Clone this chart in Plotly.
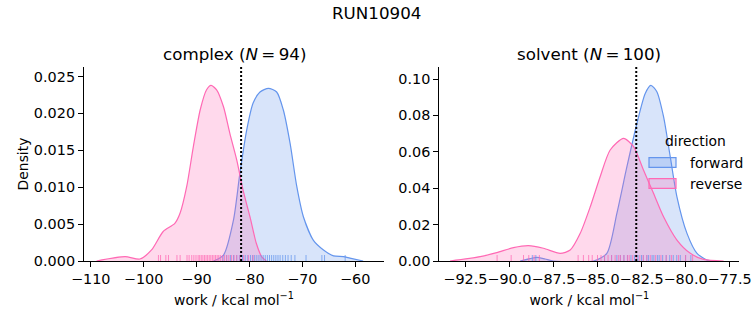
import plotly.graph_objects as go

# ---------------- data ----------------
suptitle = "RUN10904"
phases = ["complex", "solvent"]
n_counts = [94, 100]
directions = ["forward", "reverse"]

# KDE curves, complex phase
cx_fwd_x = [-86.8, -84.9, -83.0, -81.8, -80.5, -79.3, -78.0, -76.4, -74.85, -73.6, -72.3, -71.05, -69.8, -67.9, -66.0, -64.1, -62.25, -61.0, -58.5]
cx_fwd_y = [0.0, 0.0008, 0.0056, 0.0119, 0.0178, 0.0214, 0.0229, 0.0234, 0.0229, 0.0205, 0.0159, 0.0101, 0.0060, 0.0028, 0.0015, 0.0007, 0.0006, 0.0004, 0.0]
cx_rev_x = [-108.9, -103.5, -100.7, -98.5, -96.3, -94.1, -93.1, -91.85, -90.6, -89.3, -88.1, -87.26, -86.2, -84.9, -83.7, -82.4, -81.2, -79.9, -78.7, -77.7, -76.8]
cx_rev_y = [0.0, 0.00058, 0.00027, 0.0015, 0.0040, 0.0051, 0.0065, 0.0101, 0.0155, 0.0205, 0.0232, 0.0238, 0.0232, 0.0209, 0.0173, 0.0137, 0.0096, 0.0060, 0.0024, 0.0006, 0.0]

# KDE curves, solvent phase
sv_fwd_x = [-89.39, -88.82, -88.44, -87.97, -87.5, -85.23, -84.47, -83.90, -83.33, -82.76, -82.29, -81.97, -81.63, -81.25, -80.87, -80.49, -79.92, -79.35, -78.78, -78.4]
sv_fwd_y = [0.0, 0.0013, 0.0020, 0.0011, 0.0, 0.0, 0.0042, 0.0262, 0.0518, 0.0757, 0.0921, 0.0965, 0.0930, 0.0793, 0.0573, 0.0353, 0.0152, 0.0042, 0.0005, 0.0]
sv_rev_x = [-93.37, -91.66, -90.72, -89.77, -88.92, -88.07, -87.12, -86.55, -85.98, -85.41, -84.85, -84.28, -83.52, -82.95, -82.39, -81.82, -81.25, -80.49, -79.73, -78.98, -77.84]
sv_rev_y = [0.0, 0.0024, 0.0046, 0.0073, 0.0084, 0.0070, 0.0042, 0.0060, 0.0152, 0.0298, 0.0463, 0.0610, 0.0674, 0.0628, 0.0500, 0.0372, 0.0243, 0.0115, 0.0042, 0.0009, 0.0]

# rug (individual work values, estimated)
cx_fwd_rug = [-85.0, -84.3, -83.6, -83.0, -82.4, -81.9, -81.3, -80.8, -80.3, -79.8, -79.4, -79.0, -78.6, -78.2, -77.8, -77.4, -77.0, -76.6, -76.2, -75.8, -75.4, -75.0, -74.6, -74.2, -73.7, -73.2, -72.7, -72.1, -71.4, -69.3, -66.3, -65.8, -61.9]
cx_rev_rug = [-97.2, -96.8, -95.8, -95.3, -93.7, -93.1, -91.8, -91.4, -90.9, -90.5, -90.1, -89.7, -89.4, -89.1, -88.8, -88.5, -88.2, -87.9, -87.6, -87.3, -87.0, -86.7, -86.4, -86.1, -85.8, -85.5, -85.1, -84.7, -84.3, -83.9, -83.4, -82.9, -82.4, -81.8, -81.1, -80.2, -79.3]
sv_fwd_rug = [-88.7, -88.5, -84.6, -84.2, -83.9, -83.7, -83.5, -83.3, -83.1, -82.9, -82.7, -82.5, -82.4, -82.2, -82.1, -81.9, -81.8, -81.6, -81.5, -81.3, -81.1, -80.9, -80.7, -80.5, -80.3, -80.0, -79.7]
sv_rev_rug = [-90.7, -89.9, -89.2, -88.9, -88.6, -88.3, -86.1, -85.8, -85.5, -85.3, -85.0, -84.8, -84.6, -84.4, -84.2, -84.0, -83.8, -83.7, -83.5, -83.3, -83.2, -83.0, -82.8, -82.6, -82.4, -82.2, -82.0, -81.7, -81.4, -81.1, -80.8, -80.4, -80.0, -79.6]

# free-energy estimate (dotted line)
cx_estimate = -81.57
sv_estimate = -82.8

# axis ranges / ticks
cx_xrange = [-111.27, -54.56]
sv_xrange = [-93.98, -76.95]
cx_yrange = [0, 0.02629]
sv_yrange = [0, 0.1066]
cx_xtick = [-110, -100, -90, -80, -70, -60]
sv_xtick = [-92.5, -90.0, -87.5, -85.0, -82.5, -80.0, -77.5]
cx_ytick = [0, 0.005, 0.010, 0.015, 0.020, 0.025]
sv_ytick = [0, 0.02, 0.04, 0.06, 0.08, 0.10]

# ---------------- style ----------------
W, H = 753, 325
BLUE = "#6495ED"
PINK = "#FF69B4"
BLUE_F = "rgba(100,149,237,0.25)"
PINK_F = "rgba(255,105,180,0.25)"
FONT = "DejaVu Sans"
TICK_PX = 14.4
LABEL_PX = 13.9
TITLE_PX = 16.7

def px_x(p):
    return p / W

def px_y(p):
    return 1 - p / H

fig = go.Figure()

panels = [
    dict(xa="x", ya="y", fx=cx_fwd_x, fy=cx_fwd_y, rx=cx_rev_x, ry=cx_rev_y,
         fr=cx_fwd_rug, rr=cx_rev_rug, est=cx_estimate, yr=cx_yrange),
    dict(xa="x2", ya="y2", fx=sv_fwd_x, fy=sv_fwd_y, rx=sv_rev_x, ry=sv_rev_y,
         fr=sv_fwd_rug, rr=sv_rev_rug, est=sv_estimate, yr=sv_yrange),
]

AX_H = 261 - 67
for p in panels:
    for xs, ys, line_c, fill_c in [(p["fx"], p["fy"], BLUE, BLUE_F), (p["rx"], p["ry"], PINK, PINK_F)]:
        fig.add_trace(go.Scatter(x=xs, y=ys, mode="lines", line=dict(color=line_c, width=1.2, shape="spline", smoothing=0.7),
                                 fill="tozeroy", fillcolor=fill_c, xaxis=p["xa"], yaxis=p["ya"],
                                 showlegend=False, hoverinfo="skip"))
    rug_y = p["yr"][1] * (2.5 / AX_H)
    for vals, c in [(p["fr"], "rgba(100,149,237,0.75)"), (p["rr"], "rgba(255,105,180,0.75)")]:
        fig.add_trace(go.Scatter(x=vals, y=[rug_y] * len(vals), mode="markers",
                                 marker=dict(symbol="line-ns-open", size=5, color=c, line=dict(color=c, width=1)),
                                 xaxis=p["xa"], yaxis=p["ya"], showlegend=False, hoverinfo="skip",
                                 cliponaxis=False))
    fig.add_shape(type="line", xref=p["xa"], yref=p["ya"] + " domain", x0=p["est"], x1=p["est"], y0=0, y1=1,
                  line=dict(color="black", width=2, dash="2px,2px"))

ydom = [px_y(261), px_y(67)]
axis_common = dict(showline=True, linecolor="black", linewidth=1.1, ticks="outside", ticklen=5,
                   tickwidth=1.1, tickcolor="black", showgrid=False, zeroline=False, automargin=False,
                   tickangle=0, tickfont=dict(family=FONT, size=TICK_PX, color="black"), mirror=False)

xtitle = "work / kcal mol<sup>−1</sup>"
fig.update_layout(
    width=W, height=H, margin=dict(l=0, r=0, t=0, b=0, autoexpand=False),
    paper_bgcolor="white", plot_bgcolor="white",
    font=dict(family=FONT, color="black"),
    xaxis=dict(domain=[px_x(84), px_x(384)], range=cx_xrange, tickvals=cx_xtick, anchor="y",
               title=dict(text=xtitle, font=dict(size=LABEL_PX), standoff=8), **axis_common),
    yaxis=dict(domain=ydom, range=cx_yrange, tickvals=cx_ytick, tickformat=".3f", anchor="x",
               title=dict(text="Density", font=dict(size=LABEL_PX), standoff=2), **axis_common),
    xaxis2=dict(domain=[px_x(439.3), px_x(739.3)], range=sv_xrange, tickvals=sv_xtick, tickformat=".1f", anchor="y2",
                title=dict(text=xtitle, font=dict(size=LABEL_PX), standoff=8), **axis_common),
    yaxis2=dict(domain=ydom, range=sv_yrange, tickvals=sv_ytick, tickformat=".2f", anchor="x2", **axis_common),
)

# titles
fig.add_annotation(text=suptitle, x=0.5, y=px_y(13), xref="paper", yref="paper", showarrow=False,
                   xanchor="center", yanchor="middle", font=dict(family=FONT, size=TITLE_PX))
for i, (ph, n) in enumerate(zip(phases, n_counts)):
    cx = (px_x(84) + px_x(384)) / 2 if i == 0 else (px_x(439.3) + px_x(739.3)) / 2
    fig.add_annotation(text=f"{ph} (<i>N</i>\u2009=\u2009{n})", x=cx, y=px_y(54), xref="paper", yref="paper",
                       showarrow=False, xanchor="center", yanchor="middle", font=dict(family=FONT, size=TITLE_PX))

# legend (drawn manually to match the matplotlib-style frameless legend)
fig.add_annotation(text="direction", x=px_x(695), y=px_y(141), xref="paper", yref="paper", showarrow=False,
                   xanchor="center", yanchor="middle", font=dict(family=FONT, size=LABEL_PX))
for name, lc, fc, yc in [(directions[0], BLUE, BLUE_F, 162.5), (directions[1], PINK, PINK_F, 183.5)]:
    fig.add_shape(type="rect", xref="paper", yref="paper", x0=px_x(649), x1=px_x(676),
                  y0=px_y(yc + 4.8), y1=px_y(yc - 4.8), fillcolor=fc, line=dict(color=lc, width=1.2), layer="above")
    fig.add_annotation(text=name, x=px_x(688), y=px_y(yc), xref="paper", yref="paper", showarrow=False,
                       xanchor="left", yanchor="middle", font=dict(family=FONT, size=LABEL_PX))

fig.write_html("out.html")
